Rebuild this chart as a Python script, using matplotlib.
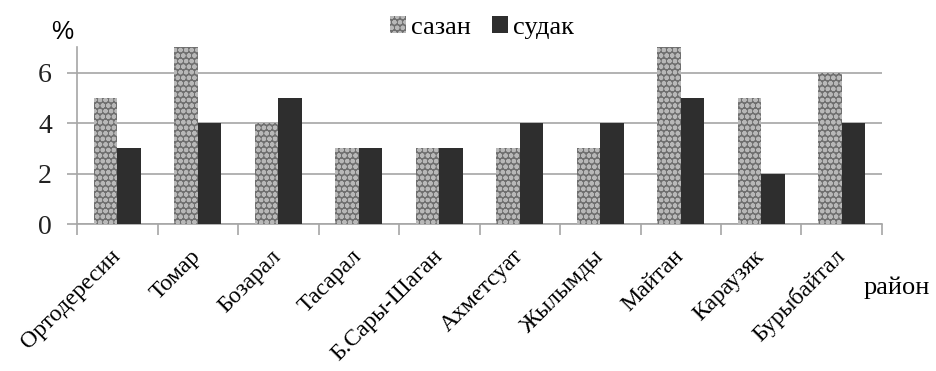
import numpy as np
import matplotlib
matplotlib.use('Agg')
from matplotlib import pyplot as plt

# данные по районам
rayony = ['Ортодересин', 'Томар', 'Бозарал', 'Тасарал', 'Б.Сары-Шаган',
          'Ахметсуат', 'Жылымды', 'Майтан', 'Караузяк', 'Бурыбайтал']
sazan = [5, 7, 4, 3, 3, 3, 3, 7, 5, 6]
sudak = [3, 4, 5, 3, 3, 4, 4, 5, 2, 4]

serif = 'Liberation Serif'
grey = '#a6a6a6'

fig = plt.figure(figsize=(9.36, 3.71), dpi=100)
ax = fig.add_axes([0.0823, 0.3962, 0.86, 0.476])

x = np.arange(len(rayony))
w = 0.29
plt.rcParams['hatch.linewidth'] = 1.5
ax.bar(x - w/2, sazan, w, color='#6f6f6f', edgecolor='#b8b8b8',
       hatch='ooo', linewidth=0, label='сазан', zorder=3)
ax.bar(x + w/2, sudak, w, color='#2e2e2e', edgecolor='#2e2e2e',
       linewidth=0, label='судак', zorder=3)

ax.set_xlim(-0.5, len(rayony) - 0.5)
ax.set_ylim(0, 7)
ax.set_yticks([0, 2, 4, 6])
ax.yaxis.grid(True, color=grey, linewidth=1.2, zorder=0)

# деления на границах категорий, подписи по центру
ax.set_xticks(np.arange(-0.5, len(rayony), 1.0))
ax.set_xticklabels([])
ax.set_xticks(x, minor=True)
ax.set_xticklabels(rayony, minor=True, rotation=45, ha='right',
                   va='center', rotation_mode='anchor',
                   fontfamily=serif, fontsize=17)
ax.tick_params(axis='x', which='minor', length=0, pad=21)
ax.tick_params(axis='x', which='major', length=8, width=1.2, color=grey)
ax.tick_params(axis='y', length=7, width=1.2, color=grey, pad=11)
for lab in ax.get_yticklabels():
    lab.set_fontfamily(serif)
    lab.set_fontsize(20)
    lab.set_color('#222222')

for s in ['top', 'right']:
    ax.spines[s].set_visible(False)
for s in ['left', 'bottom']:
    ax.spines[s].set_color(grey)
    ax.spines[s].set_linewidth(1.2)

fig.text(0.066, 0.915, '%', fontfamily='Liberation Sans', fontsize=18,
         ha='center', va='center')
fig.text(0.993, 0.225, 'район', fontfamily=serif, fontsize=19,
         ha='right', va='center')

leg = ax.legend(loc='center', bbox_to_anchor=(0.515, 0.925),
                bbox_transform=fig.transFigure, ncol=2, frameon=False,
                prop={'family': serif, 'size': 19}, handlelength=0.6,
                handleheight=0.6, handletextpad=0.2, columnspacing=0.8)

fig.savefig('out.png', dpi=100)
